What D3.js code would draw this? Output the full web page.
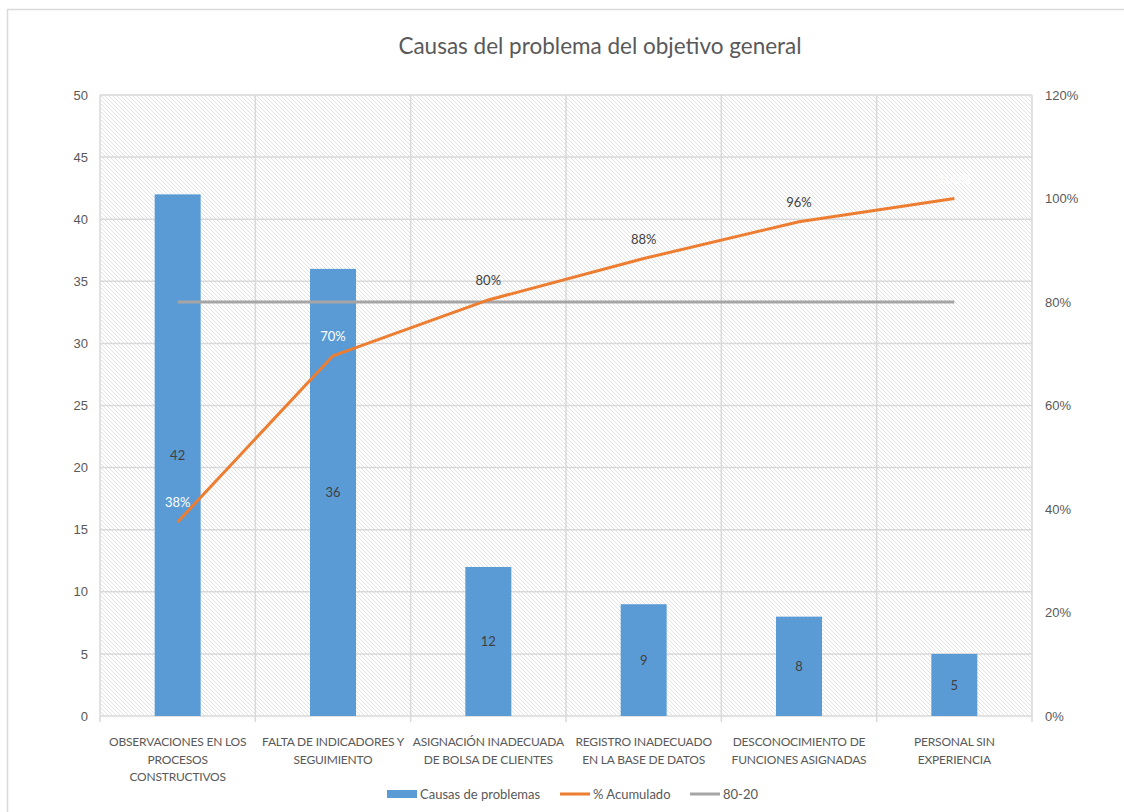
<!DOCTYPE html>
<html>
<head>
<meta charset=utf-8>
<style>
body {margin: 0; background: #fff;}
svg {display: block; font-family: Lato, 'Open Sans', sans-serif;}
.axis text {fill: #595959; font-size: 13px;}
.axis path, .axis line {stroke: #d9d9d9;}
</style>
</head>
<body>
<svg id=chart width=1124 height=812></svg>
<script src='https://cdn.jsdelivr.net/npm/d3@7/dist/d3.min.js'></script>
<script>
//chart data
var categories = ['OBSERVACIONES EN LOS|PROCESOS|CONSTRUCTIVOS', 'FALTA DE INDICADORES Y|SEGUIMIENTO',
  'ASIGNACIÓN INADECUADA|DE BOLSA DE CLIENTES', 'REGISTRO INADECUADO|EN LA BASE DE DATOS',
  'DESCONOCIMIENTO DE|FUNCIONES ASIGNADAS', 'PERSONAL SIN|EXPERIENCIA'];
var causas = [42, 36, 12, 9, 8, 5];
var acumulado = [0.375, 0.696, 0.804, 0.884, 0.955, 1.0];
var acumLabels = ['38%', '70%', '80%', '88%', '96%', '100%'];
var linea8020 = [0.8, 0.8, 0.8, 0.8, 0.8, 0.8];
var leftTicks = [0, 5, 10, 15, 20, 25, 30, 35, 40, 45, 50];
var rightTicks = [0, 0.2, 0.4, 0.6, 0.8, 1.0, 1.2];

var margin = {top: 95, right: 92, bottom: 96, left: 100};
var root = d3.select('#chart');
var width = +root.attr('width') - margin.left - margin.right;
var height = +root.attr('height') - margin.top - margin.bottom;

//outer chart border
root.append('rect')
    .attr('x', 7.5).attr('y', 9.5).attr('width', 1130).attr('height', 820)
    .attr('fill', '#fff').attr('stroke', '#d9d9d9').attr('stroke-width', 1.5);

//hatch pattern for plot area
var pat = root.append('defs').append('pattern')
    .attr('id', 'hatch').attr('patternUnits', 'userSpaceOnUse')
    .attr('width', 4).attr('height', 4);
pat.append('rect').attr('width', 4).attr('height', 4).attr('fill', '#fff');
pat.append('path').attr('d', 'M-1,-1 L5,5 M-1,3 L1,5 M3,-1 L5,1')
    .attr('stroke', '#e2e2e2').attr('stroke-width', 1);

var svg = root.append('g')
    .attr('transform', 'translate(' + margin.left + ',' + margin.top + ')');

var x = d3.scaleBand().domain(categories).range([0, width]).paddingInner(0).paddingOuter(0);
var y = d3.scaleLinear().domain([0, 50]).range([height, 0]);
var y2 = d3.scaleLinear().domain([0, 1.2]).range([height, 0]);

svg.append('rect').attr('width', width).attr('height', height).attr('fill', 'url(#hatch)');

//gridlines
svg.selectAll('.hgrid').data(leftTicks).enter().append('line')
    .attr('x1', 0).attr('x2', width)
    .attr('y1', function(d) { return y(d); }).attr('y2', function(d) { return y(d); })
    .attr('stroke', '#d9d9d9').attr('stroke-width', 1.5);
svg.selectAll('.vgrid').data(categories.concat(['end'])).enter().append('line')
    .attr('x1', function(d, i) { return i * x.bandwidth(); })
    .attr('x2', function(d, i) { return i * x.bandwidth(); })
    .attr('y1', 0).attr('y2', height + 6)
    .attr('stroke', '#d9d9d9').attr('stroke-width', 1.5);

//axes
var ax = svg.append('g').attr('class', 'axis')
    .call(d3.axisLeft(y).tickValues(leftTicks).tickSize(0).tickPadding(12));
ax.select('.domain').remove();
var ax2 = svg.append('g').attr('class', 'axis')
    .attr('transform', 'translate(' + width + ',0)')
    .call(d3.axisRight(y2).tickValues(rightTicks).tickSize(0).tickPadding(13).tickFormat(d3.format('.0%')));
ax2.select('.domain').remove();

//category labels
svg.selectAll('.cat').data(categories).enter().append('text')
    .attr('text-anchor', 'middle').attr('fill', '#595959')
    .style('font-size', '12px').style('letter-spacing', '-0.2px')
    .attr('x', function(d) { return x(d) + x.bandwidth() / 2; })
    .attr('y', height + 30)
    .each(function(d) {
      var t = d3.select(this);
      d.split('|').forEach(function(line, i) {
        t.append('tspan').attr('x', t.attr('x')).attr('dy', i ? 17.5 : 0).text(line);
      });
    });

//bars
var bw = 46;
svg.selectAll('.bar').data(causas).enter().append('rect')
    .attr('x', function(d, i) { return x(categories[i]) + x.bandwidth() / 2 - bw / 2; })
    .attr('y', function(d) { return y(d); })
    .attr('width', bw)
    .attr('height', function(d) { return height - y(d); })
    .attr('fill', '#5b9bd5');
svg.selectAll('.barlab').data(causas).enter().append('text')
    .attr('text-anchor', 'middle').attr('fill', '#404040').style('font-size', '13px')
    .attr('x', function(d, i) { return x(categories[i]) + x.bandwidth() / 2; })
    .attr('y', function(d) { return (y(d) + height) / 2 + 5; })
    .text(function(d) { return d; });

var cx = function(d, i) { return x(categories[i]) + x.bandwidth() / 2; };

//80-20 line
svg.append('path').datum(linea8020)
    .attr('fill', 'none').attr('stroke', '#a5a5a5').attr('stroke-width', 3)
    .attr('d', d3.line().x(cx).y(function(d) { return y2(d); }));

//cumulative line
svg.append('path').datum(acumulado)
    .attr('fill', 'none').attr('stroke', '#ed7d31').attr('stroke-width', 3)
    .attr('stroke-linejoin', 'round')
    .attr('d', d3.line().x(cx).y(function(d) { return y2(d); }));
svg.selectAll('.pctlab').data(acumulado).enter().append('text')
    .attr('text-anchor', 'middle').style('font-size', '13px')
    .attr('fill', function(d, i) { return (i < 2 || i == 5) ? '#fff' : '#404040'; })
    .attr('x', cx)
    .attr('y', function(d) { return y2(d) - 15; })
    .text(function(d, i) { return acumLabels[i]; });

//title
root.append('text')
    .attr('text-anchor', 'middle').attr('x', 600).attr('y', 54)
    .attr('fill', '#595959').style('font-size', '22.5px')
    .text('Causas del problema del objetivo general');

//legend
var legend = root.append('g').attr('transform', 'translate(0,794)');
legend.append('rect').attr('x', 387).attr('y', -4).attr('width', 30).attr('height', 8).attr('fill', '#5b9bd5');
legend.append('line').attr('x1', 560).attr('x2', 590).attr('stroke', '#ed7d31').attr('stroke-width', 3);
legend.append('line').attr('x1', 690).attr('x2', 720).attr('stroke', '#a5a5a5').attr('stroke-width', 3);
[['Causas de problemas', 420], ['% Acumulado', 593], ['80-20', 723]].forEach(function(l) {
  legend.append('text').attr('x', l[1]).attr('y', 5).attr('fill', '#595959')
      .style('font-size', '13px').text(l[0]);
});
</script>
</body>
</html>
